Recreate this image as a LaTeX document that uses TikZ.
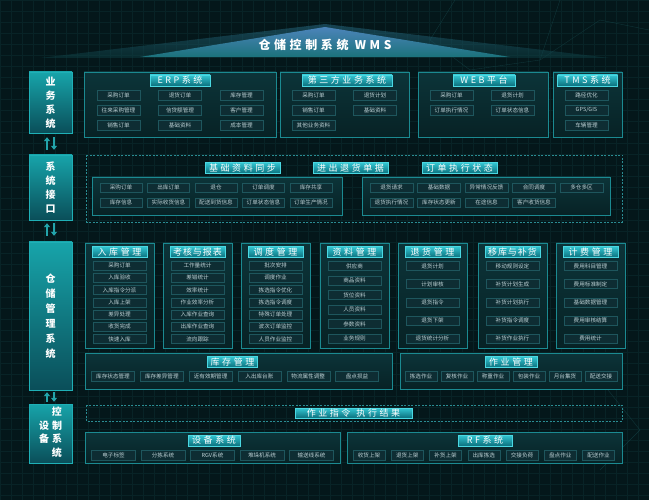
\documentclass[tikz,border=0pt]{standalone}
\usepackage{fontspec}
\setmainfont{Noto Sans CJK SC}
\newfontfamily\tabfont[LetterSpace=28]{Noto Sans CJK SC}
\newfontfamily\tabfontB[LetterSpace=10]{Noto Sans CJK SC}
\newfontfamily\ttlfont[LetterSpace=30]{Noto Sans CJK SC}
\usetikzlibrary{arrows.meta,calc}
\definecolor{bgc}{HTML}{04171A}
\definecolor{gridc}{HTML}{082326}
\definecolor{itemfill}{HTML}{0E2D33}
\definecolor{itemedge}{HTML}{1E565D}
\definecolor{itemtext}{HTML}{BCD0D4}
\definecolor{tabtop}{HTML}{33C6D2}
\definecolor{tabbot}{HTML}{0B6F7C}
\definecolor{tabedge}{HTML}{4AD8E2}
\definecolor{paneledge}{HTML}{1B8A91}
\definecolor{paneltop}{HTML}{0C3439}
\definecolor{panelbot}{HTML}{072225}
\definecolor{dashc}{HTML}{2A8C92}
\definecolor{labtop}{HTML}{17A4AA}
\definecolor{labbot}{HTML}{0A4E59}
\definecolor{labedge}{HTML}{1FB0B6}
\definecolor{arrc}{HTML}{23A4AB}
\definecolor{glowtop}{HTML}{2A6F8A}
\definecolor{glowbot}{HTML}{0D3D40}
\definecolor{ttltop}{HTML}{4C84BA}
\definecolor{ttlbot}{HTML}{1B727B}
\definecolor{netc}{HTML}{16474B}
\tikzset{
  item/.style={draw=itemedge, fill=itemfill, line width=0.4pt, text=itemtext,
    font=\fontsize{5.6}{6}\selectfont, inner sep=0pt, minimum height=9.5pt, minimum width=43pt},
  tabbox/.style={draw=tabedge, line width=0.4pt, top color=tabtop, bottom color=tabbot,
    text=white, font=\tabfont\fontsize{9}{10}\selectfont, inner sep=0pt, minimum height=11pt},
  panel/.style={draw=paneledge, line width=0.6pt, top color=paneltop, bottom color=panelbot},
  dpanel/.style={draw=dashc, dash pattern=on 2pt off 1.5pt, line width=0.5pt},
  lab/.style={top color=labtop, bottom color=labbot, draw=labedge, line width=0.4pt, text=white,
    font=\fontsize{10}{14}\selectfont\bfseries, align=center, inner sep=0pt, minimum width=43pt},
  flow/.style={draw=arrc, line width=2pt, -{Triangle[width=6pt,length=4pt]}}
}
\begin{document}
\begin{tikzpicture}[x=1pt,y=-1pt]
\useasboundingbox (0,0) rectangle (649,500);
\fill[bgc] (0,0) rectangle (649,500);
\foreach \x in {0,11,...,649} \draw[gridc, line width=0.3pt] (\x,0) -- (\x,500);
\foreach \y in {0,11,...,500} \draw[gridc, line width=0.3pt] (0,\y) -- (649,\y);
% faint network decoration
\draw[netc, opacity=0.6, line width=0.4pt] (455,0) -- (430,40) -- (470,70) -- (540,60) -- (600,20) -- (649,30);
\draw[netc, opacity=0.6, line width=0.4pt] (540,60) -- (560,0);
\draw[netc, opacity=0.6, line width=0.4pt] (600,380) -- (640,430) -- (600,470);
% title
\shade[top color=glowtop, bottom color=glowbot, opacity=0.5] (40,58) -- (325,24) -- (610,58) -- cycle;
\shade[top color=ttltop, bottom color=ttlbot] (140,57) -- (325,27) -- (510,57) -- cycle;
\node[text=white, font=\ttlfont\fontsize{12}{12}\selectfont\bfseries, inner sep=0pt] (title) at (325,45) {仓储控制系统 WMS};

% left labels
\node[lab, minimum height=61pt] (lab1) at (50.5,102.5) {业\\务\\系\\统};
\node[lab, minimum height=65pt] (lab2) at (50.5,187.5) {系\\统\\接\\口};
\node[lab, minimum height=148pt, font=\fontsize{10}{15}\selectfont\bfseries] (lab3) at (50.5,316) {仓\\储\\管\\理\\系\\统};
\node[lab, minimum height=59pt, font=\fontsize{10}{13.5}\selectfont\bfseries] (lab4) at (50.5,433.5)
  {\begin{tabular}{@{}c@{\hspace{3pt}}c@{}}&控\\设&制\\备&系\\&统\end{tabular}};
\draw[flow, shorten >=4pt, shorten <=5pt] ([xshift=-3.5pt]lab2.north) -- ([xshift=-3.5pt]lab1.south);
\draw[flow, shorten >=5pt, shorten <=4pt] ([xshift=3.5pt]lab1.south) -- ([xshift=3.5pt]lab2.north);
\draw[flow, shorten >=3pt, shorten <=6pt] ([xshift=-3.5pt]lab3.north) -- ([xshift=-3.5pt]lab2.south);
\draw[flow, shorten >=6pt, shorten <=3pt] ([xshift=3.5pt]lab2.south) -- ([xshift=3.5pt]lab3.north);
\draw[flow, shorten >=2pt, shorten <=2pt] ([xshift=-3.5pt]lab4.north) -- ([xshift=-3.5pt]lab3.south);
\draw[flow, shorten >=2pt, shorten <=2pt] ([xshift=3.5pt]lab3.south) -- ([xshift=3.5pt]lab4.north);

% ===== Section 1: business systems
\path[panel] (84,72) rectangle (276,137);
\node[tabbox, minimum width=60pt] (erpT) at (180,80.5) {ERP系统};
\foreach \txt [count=\i from 0] in {采购订单,退货订单,库存管理,往来采购管理,信贷额管理,客户管理,销售订单,基础资料,成本管理} {
  \pgfmathsetmacro\cx{118.5+61.5*mod(\i,3)}
  \pgfmathsetmacro\cy{95+15*floor(\i/3)}
  \node[item] (erp\i) at (\cx,\cy) {\txt};
}
\path[panel] (280,72) rectangle (409,137);
\node[tabbox, minimum width=90pt] (thirdT) at (347,80.5) {第三方业务系统};
\foreach \txt [count=\i from 0] in {采购订单,退货计划,销售订单,基础资料,其他业务资料} {
  \pgfmathsetmacro\cx{313.5+61.5*mod(\i,2)}
  \pgfmathsetmacro\cy{95+15*floor(\i/2)}
  \node[item] (third\i) at (\cx,\cy) {\txt};
}
\path[panel] (418,72) rectangle (548,137);
\node[tabbox, minimum width=62pt] (webT) at (484,80.5) {WEB平台};
\foreach \txt [count=\i from 0] in {采购订单,退货计划,订单执行情况,订单状态信息} {
  \pgfmathsetmacro\cx{451.5+61*mod(\i,2)}
  \pgfmathsetmacro\cy{95+15*floor(\i/2)}
  \node[item] (web\i) at (\cx,\cy) {\txt};
}
\path[panel] (553,72) rectangle (622,137);
\node[tabbox, minimum width=60pt] (tmsT) at (587.5,80.5) {TMS系统};
\foreach \txt [count=\i from 0] in {路径优化,GPS/GIS,车辆管理} {
  \node[item] (tms\i) at (586.5,95+15*\i) {\txt};
}

% ===== Section 2: interfaces
\path[dpanel] (86,155) rectangle (622,222);
\node[tabbox, minimum width=75pt] (ifT1) at (242.5,168) {基础资料同步};
\node[tabbox, minimum width=75pt] (ifT2) at (350.5,168) {进出退货单据};
\node[tabbox, minimum width=75pt] (ifT3) at (459.5,168) {订单执行状态};
\path[panel] (92,177) rectangle (342,215);
\foreach \txt [count=\i from 0] in {采购订单,出库订单,退仓,订单调度,库存共享,库存信息,实际收货信息,配送到货信息,订单状态信息,订单生产情况} {
  \pgfmathsetmacro\cx{121+47.5*mod(\i,5)}
  \pgfmathsetmacro\cy{187.5+15*floor(\i/5)}
  \node[item, minimum width=42pt] (ifa\i) at (\cx,\cy) {\txt};
}
\path[panel] (362,177) rectangle (610,215);
\foreach \txt [count=\i from 0] in {退货请求,基础数据,异常情况反馈,合同调度,多仓多区,退货执行情况,库存状态更新,在途信息,客户收货信息} {
  \pgfmathsetmacro\cx{391.5+47.5*mod(\i,5)}
  \pgfmathsetmacro\cy{187.5+15*floor(\i/5)}
  \node[item, minimum width=43pt] (ifb\i) at (\cx,\cy) {\txt};
}

% ===== Section 3: WMS modules
\foreach \cx/\nm/\ff [count=\k] in {119.5/入库管理/\tabfont,197.5/考核与报表/\tabfontB,275.5/调度管理/\tabfont,354.5/资料管理/\tabfont,432.5/退货管理/\tabfont,512.5/移库与补货/\tabfontB,590.5/计费管理/\tabfont} {
  \path[panel] (\cx-34.5,243) rectangle (\cx+34.5,348);
  \node[tabbox, minimum width=55pt, font=\ff\fontsize{9}{10}\selectfont] (modT\k) at (\cx,252) {\nm};
}
\foreach \txt [count=\i from 0] in {采购订单,入库验收,入库指令分派,入库上架,差异处理,收货完成,快速入库}
  \node[item, minimum width=53pt, minimum height=9pt] (in\i) at (119.5,265.5+12.25*\i) {\txt};
\foreach \txt [count=\i from 0] in {工作量统计,差错统计,效率统计,作业效率分析,入库作业查询,出库作业查询,流向跟踪}
  \node[item, minimum width=53pt, minimum height=9pt] (kh\i) at (197.5,265.5+12.25*\i) {\txt};
\foreach \txt [count=\i from 0] in {批次安排,调度作业,拣选指令优化,拣选指令调度,特殊订单处理,波次订单监控,人员作业监控}
  \node[item, minimum width=53pt, minimum height=9pt] (dd\i) at (275.5,265.5+12.25*\i) {\txt};
\foreach \txt [count=\i from 0] in {供应商,商品资料,货位资料,人员资料,参数资料,业务规则}
  \node[item, minimum width=53pt, minimum height=9pt] (zl\i) at (354.5,266+14.5*\i) {\txt};
\foreach \txt [count=\i from 0] in {退货计划,计划审核,退货指令,退货下架,退货统计分析}
  \node[item, minimum width=53pt, minimum height=9pt] (th\i) at (432.5,266+18.125*\i) {\txt};
\foreach \txt [count=\i from 0] in {移动规则设定,补货计划生成,补货计划执行,补货指令调度,补货作业执行}
  \node[item, minimum width=53pt, minimum height=9pt] (bh\i) at (512.5,266+18.125*\i) {\txt};
\foreach \txt [count=\i from 0] in {费用科目管理,费用标准制定,基础数据管理,费用审核结算,费用统计}
  \node[item, minimum width=53pt, minimum height=9pt] (jf\i) at (590.5,266+18.125*\i) {\txt};

\path[panel] (85,353) rectangle (392,389);
\node[tabbox, minimum width=50pt] (kcT) at (232.5,362) {库存管理};
\foreach \txt [count=\i from 0] in {库存状态管理,库存差异管理,近有效期管理,入出库台账,物流属性调整,盘点损益}
  \node[item, minimum width=43pt] (kc\i) at (113+48.8*\i,376) {\txt};
\path[panel] (400,353) rectangle (622,389);
\node[tabbox, minimum width=52pt] (zyT) at (511,362) {作业管理};
\foreach \txt [count=\i from 0] in {拣选作业,复核作业,称重作业,包装作业,月台集货,配送交接}
  \node[item, minimum width=32pt] (zy\i) at (421+36*\i,376) {\txt};

% ===== Section 4: equipment
\path[dpanel] (86,405) rectangle (622,421);
\node[tabbox, minimum width=117pt, minimum height=10pt] (cmdT) at (353.5,413) {作业指令\hspace{6pt}执行结果};
\path[panel] (85,432) rectangle (340,463);
\node[tabbox, minimum width=52pt] (sbT) at (214,440.5) {设备系统};
\foreach \txt [count=\i from 0] in {电子标签,分拣系统,RGV系统,堆垛机系统,输送线系统}
  \node[item, minimum width=44pt] (sb\i) at (113.5+49.5*\i,455) {\txt};
\path[panel] (347,432) rectangle (622,463);
\node[tabbox, minimum width=54pt] (rfT) at (485,440.5) {RF系统};
\foreach \txt [count=\i from 0] in {收货上架,退货上架,补货上架,出库拣选,交接负荷,盘点作业,配送作业}
  \node[item, minimum width=32pt] (rf\i) at (369+38.25*\i,455) {\txt};
\end{tikzpicture}
\end{document}
